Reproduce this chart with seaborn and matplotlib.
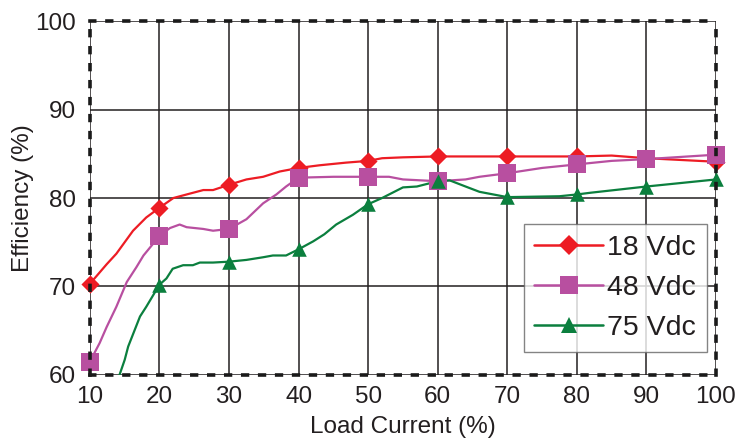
import numpy as np
import pandas as pd
import matplotlib
matplotlib.use('Agg')
import matplotlib.pyplot as plt
import seaborn as sns
from matplotlib.lines import Line2D

# ---- data ----
load_18 = [10, 12.4, 13.8, 16.2, 18.1, 20, 22, 23.9, 26.3, 27.7, 30, 32.5, 34.9, 37.3, 40,
           43, 46.8, 50, 52, 55, 60, 70, 80, 85, 90, 100]
eff_18 = [70.3, 72.5, 73.7, 76.3, 77.8, 78.9, 80.0, 80.4, 80.9, 80.9, 81.5, 82.1, 82.4, 83.0, 83.4,
          83.7, 84.0, 84.2, 84.5, 84.6, 84.7, 84.7, 84.7, 84.8, 84.5, 84.1]

load_48 = [10, 11.4, 12.4, 13.8, 15.3, 16.7, 17.7, 20, 21.5, 22.9, 23.9, 26.3, 27.7, 30, 32.5,
           34.9, 36.8, 38.2, 40, 45, 50, 53, 55, 60, 64, 66, 70, 75, 80, 85, 90, 100]
eff_48 = [61.5, 63.6, 65.4, 67.7, 70.5, 72.2, 73.5, 75.7, 76.6, 77.0, 76.7, 76.5, 76.3, 76.5, 77.6,
          79.4, 80.4, 81.3, 82.3, 82.4, 82.4, 82.4, 82.1, 81.9, 82.1, 82.4, 82.8, 83.4, 83.8, 84.2, 84.4, 84.9]

load_75 = [13.6, 15, 15.5, 17.2, 18.1, 20, 21, 21.9, 23.4, 24.8, 25.8, 27.7, 30, 32.5, 34.9, 36.3,
           38.2, 40, 42.1, 43.7, 45.4, 47.8, 50, 52, 53.5, 55, 57, 60, 61.7, 64, 66, 70, 77.5, 80,
           82, 90, 100]
eff_75 = [58.5, 61.7, 63.2, 66.6, 67.7, 70.2, 70.9, 72.0, 72.4, 72.4, 72.7, 72.7, 72.8, 73.0, 73.3, 73.5,
          73.5, 74.2, 75.1, 75.9, 77.0, 78.1, 79.3, 80.0, 80.6, 81.2, 81.3, 81.9, 82.0, 81.3, 80.7, 80.1, 80.2, 80.4,
          80.6, 81.3, 82.1]

mark_x = [10, 20, 30, 40, 50, 60, 70, 80, 90, 100]
mark_18 = [70.3, 78.9, 81.5, 83.4, 84.2, 84.7, 84.7, 84.7, 84.5, 84.1]
mark_48 = [61.5, 75.7, 76.5, 82.3, 82.4, 81.9, 82.8, 83.8, 84.4, 84.9]
mark_75_x = [20, 30, 40, 50, 60, 70, 80, 90, 100]
mark_75 = [70.2, 72.8, 74.2, 79.3, 81.9, 80.1, 80.4, 81.3, 82.1]

labels = ['18 Vdc', '48 Vdc', '75 Vdc']
colors = ['#ED1C24', '#B84FA0', '#0B7F3E']
markers = ['D', 's', '^']

sns.set_style('white')
plt.rcParams['font.family'] = ['Liberation Sans', 'DejaVu Sans']
txt = '#231F20'

fig = plt.figure(figsize=(7.37, 4.41), dpi=100)
ax = fig.add_axes([0.122, 0.150, 0.8495, 0.802])

curves = [(load_18, eff_18), (load_48, eff_48), (load_75, eff_75)]
marks = [(mark_x, mark_18), (mark_x, mark_48), (mark_75_x, mark_75)]
msize = [85, 150, 110]

for (lx, ly), (mx, my), c, m, s in zip(curves, marks, colors, markers, msize):
    sns.lineplot(x=lx, y=ly, ax=ax, color=c, lw=1.6, sort=False, zorder=3)
    sns.scatterplot(x=mx, y=my, ax=ax, color=c, marker=m, s=s, linewidth=0,
                    zorder=4, clip_on=False)

ax.set_xlim(10, 100)
ax.set_ylim(60, 100)
ax.set_xticks(range(10, 101, 10))
ax.set_yticks(range(60, 101, 10))
ax.grid(True, color=txt, lw=1.1)
ax.tick_params(length=0, labelsize=17.5, colors=txt)
ax.tick_params(axis='x', pad=8)
ax.tick_params(axis='y', pad=10)
for sp in ax.spines.values():
    sp.set_color('#1a1a1a')
    sp.set_linewidth(2.6)
    sp.set_linestyle((0, (1.3, 3.4)))
    sp.set_zorder(5)

ax.set_xlabel('Load Current (%)', fontsize=17.5, color=txt, labelpad=6)
ax.set_ylabel('Efficiency (%)', fontsize=17.5, color=txt, labelpad=1)

handles = [Line2D([0], [0], color=c, lw=1.8, marker=m, markersize=ms, markeredgewidth=0)
           for c, m, ms in zip(colors, markers, [10, 13, 12])]
leg = ax.legend(handles, labels, loc='lower right', bbox_to_anchor=(0.985, 0.065),
                fontsize=20.5, frameon=True, fancybox=False, handlelength=2.4,
                handletextpad=0.15, labelspacing=0.5, borderpad=0.38, borderaxespad=0)
leg.get_frame().set_edgecolor('#666666')
leg.get_frame().set_linewidth(1.0)
leg.set_zorder(6)
for t in leg.get_texts():
    t.set_color(txt)

fig.savefig('out.png', dpi=100)
